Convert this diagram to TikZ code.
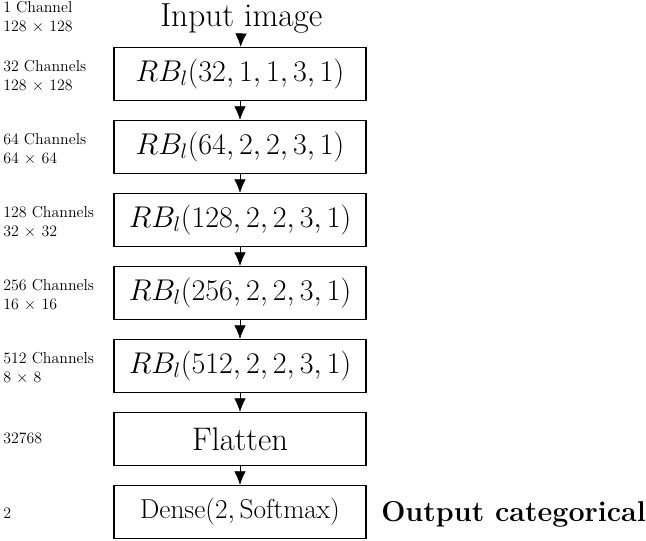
\RequirePackage{fix-cm}
\documentclass[tikz,border=0pt]{standalone}
\usepackage{fontspec}
\usetikzlibrary{arrows.meta,positioning}

\tikzset{
  layer/.style={draw, line width=0.8pt, minimum width=189pt, minimum height=40pt, inner sep=0pt},
  info/.style={anchor=west, align=left, inner sep=0pt,
    font=\fontsize{11.9}{14.25}\selectfont\addfontfeature{FakeBold=2}},
}

\begin{document}
\begin{tikzpicture}[>={Latex[length=10pt,width=8.5pt]}]
		\useasboundingbox (0,0) rectangle (484.5pt,-405.75pt);
		
		% Input
		\node[anchor=base, inner sep=0.5pt, font=\fontsize{25}{29}\selectfont] (input) at (181pt,-20pt) {Input image};
		\node[info] (c0) at (2.25pt,-13pt) {1 Channel\\128 $\times$ 128};
		
		% Residual blocks
		\foreach \i/\ch/\st/\res in {1/32/1/128, 2/64/2/64, 3/128/2/32, 4/256/2/16, 5/512/2/8}
		{
		\node[layer, font=\fontsize{22.5}{26}\selectfont] (rb\i) at (180pt,{-55.5pt-(\i-1)*54.75pt}) {$RB_l(\ch,\st,\st,3,1)$};
		\node[info] (c\i) at (2.25pt,{-57pt-(\i-1)*54.75pt}) {\ch{} Channels\\\res{} $\times$ \res};
		}
		
		% Flatten and dense
		\node[layer, font=\fontsize{24.5}{28}\selectfont] (flat) at (180pt,-329.25pt) {Flatten};
		\node[info] (c6) at (2.25pt,-328.5pt) {32768};
		\node[layer, font=\fontsize{20.5}{24}\selectfont] (dense) at (180pt,-384pt) {$\mathrm{Dense}(2,\mathrm{Softmax})$};
		\node[info] (c7) at (2.25pt,-384.75pt) {2};
		\node[anchor=west, inner sep=0pt, font=\fontsize{21.5}{25}\selectfont\bfseries] (out) at (285.75pt,-386pt) {Output categorical};
		
		% Arrows
		\draw[->] (input) -- (rb1);
		\foreach \i [evaluate=\i as \j using int(\i+1)] in {1,...,4}
		\draw[->] (rb\i) -- (rb\j);
		\draw[->] (rb5) -- (flat);
		\draw[->] (flat) -- (dense);
\end{tikzpicture}
\end{document}
